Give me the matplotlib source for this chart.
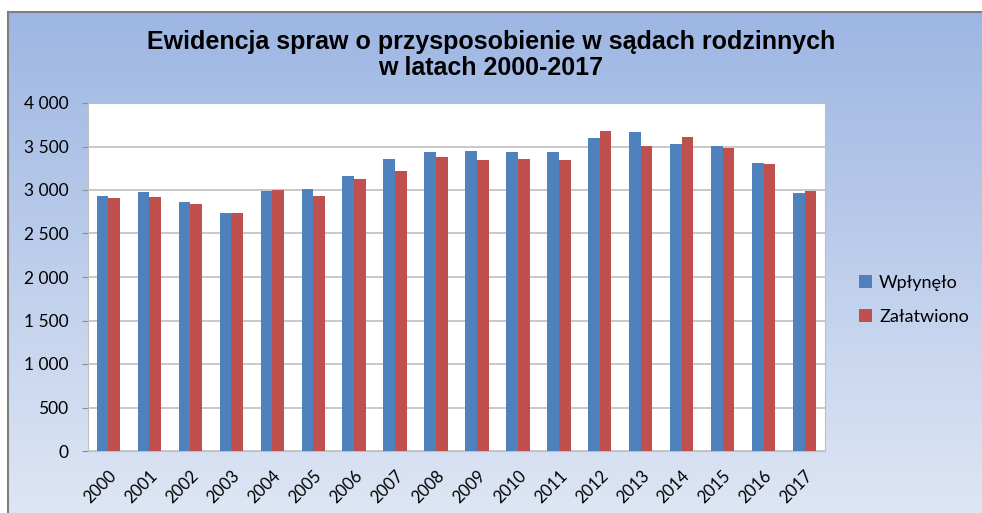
import matplotlib.pyplot as plt
import numpy as np
from matplotlib.lines import Line2D
from matplotlib.ticker import FuncFormatter

years = [str(y) for y in range(2000, 2018)]
wplynelo = [2931, 2973, 2858, 2736, 2985, 3015, 3161, 3356, 3433,
            3444, 3433, 3433, 3594, 3671, 3525, 3510, 3307, 2962]
zalatwiono = [2904, 2916, 2839, 2736, 3004, 2935, 3130, 3215, 3379,
              3349, 3356, 3349, 3678, 3510, 3605, 3483, 3295, 2985]

title = "Ewidencja spraw o przysposobienie w sądach rodzinnych\nw latach 2000-2017"
blue = '#4F81BD'
red = '#C0504D'

W, H = 982, 513
fig = plt.figure(figsize=(W / 100, H / 100), dpi=100)
fig.patch.set_facecolor('white')

# gradient background of the chart area
bg = fig.add_axes([8 / W, 0, 1 - 8 / W, 1 - 12 / H])
top = np.array([0x9D, 0xB6, 0xE3]) / 255
bottom = np.array([0xDE, 0xE6, 0xF4]) / 255
t = np.linspace(0, 1, 256)[:, None]
grad = top * (1 - t) + bottom * t
bg.imshow(grad[:, None, :], aspect='auto', extent=[0, 1, 0, 1])
bg.set_axis_off()

# grey border on top and left
fig.add_artist(Line2D([8 / W, 1], [1 - 12 / H, 1 - 12 / H], transform=fig.transFigure,
                      color='#7F7F7F', lw=1.5))
fig.add_artist(Line2D([8 / W, 8 / W], [0, 1 - 12 / H], transform=fig.transFigure,
                      color='#7F7F7F', lw=1.5))

fig.text(0.5, 1 - 55 / H, title, ha='center', va='center', fontsize=18,
         fontweight='bold', family='Liberation Sans', linespacing=1.15)

ax = fig.add_axes([88 / W, 1 - 451 / H, (825 - 88) / W, (451 - 103) / H])
ax.set_facecolor('white')
x = np.arange(len(years))
bw = 0.285
ax.bar(x - bw / 2, wplynelo, bw, color=blue, label='Wpłynęło', zorder=3)
ax.bar(x + bw / 2, zalatwiono, bw, color=red, label='Załatwiono', zorder=3)

ax.set_xlim(-0.5, len(years) - 0.5)
ax.set_ylim(0, 4000)
ax.set_yticks(range(0, 4001, 500))
ax.yaxis.set_major_formatter(FuncFormatter(lambda v, p: f"{int(v):,}".replace(',', ' ')))
ax.grid(axis='y', color='#BFBFBF', lw=1.2, zorder=0)
for s in ax.spines.values():
    s.set_color('#BFBFBF')
ax.set_xticks(x)
ax.set_xticklabels(years, rotation=45, ha='right', rotation_mode='anchor')
ax.tick_params(axis='y', length=4, color='#8C8C8C', labelsize=12.5, pad=10)
ax.tick_params(axis='x', length=0, labelsize=12, pad=12)
for lab in ax.get_xticklabels() + ax.get_yticklabels():
    lab.set_family('Lato')

leg = fig.legend(loc='center left', bbox_to_anchor=(843 / W, 1 - 300 / H), frameon=False,
                 prop={'family': 'Lato', 'size': 13}, handlelength=0.7, handleheight=0.7,
                 handletextpad=0.4, labelspacing=1.0)

fig.savefig('out.png', dpi=100)
